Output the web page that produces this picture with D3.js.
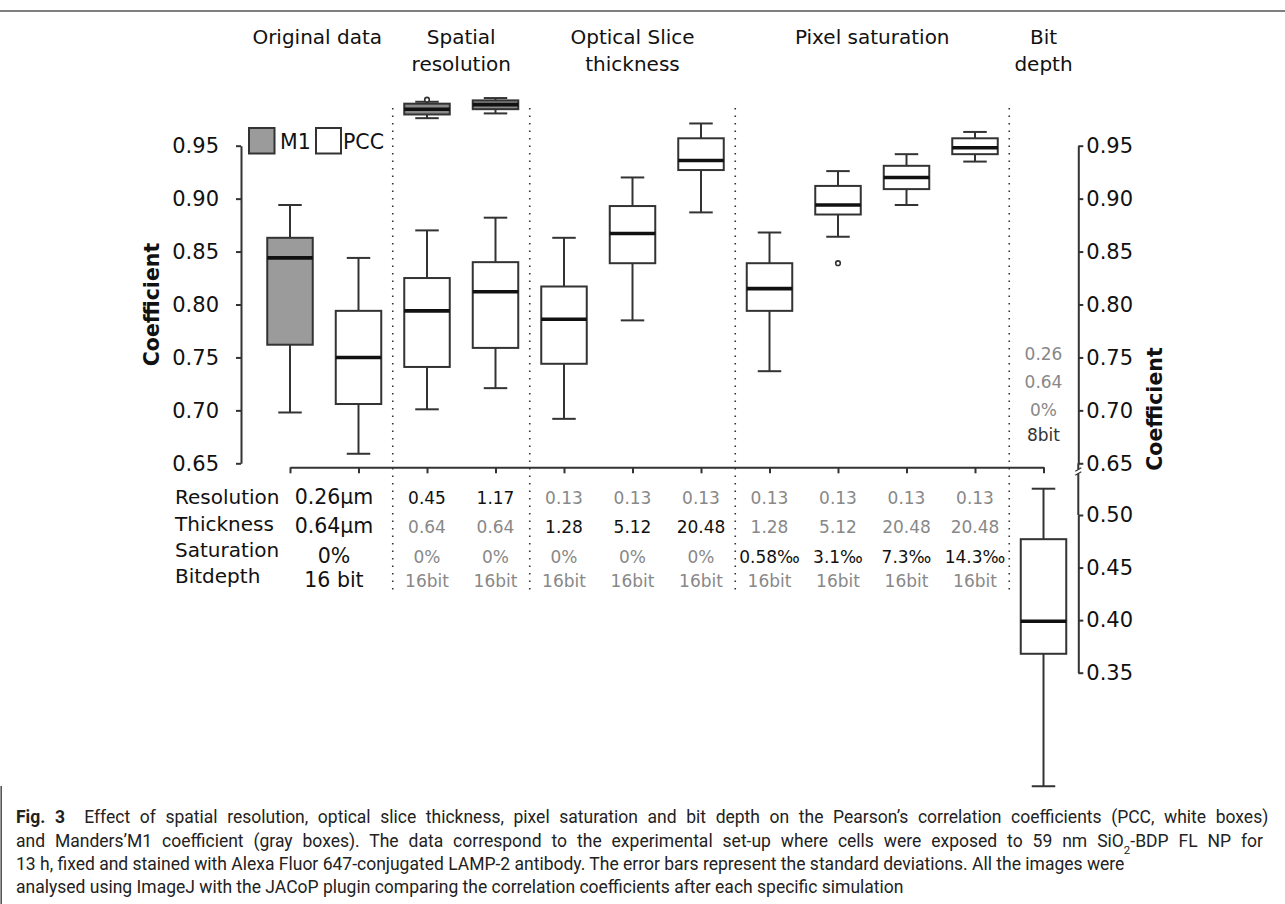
<!DOCTYPE html>
<html>
<head>
<meta charset="utf-8">
<script src="https://cdn.jsdelivr.net/npm/d3@7"></script>
<style>
  body { margin: 0; background: #fff; }
  svg { display: block; }
  .axis path, .axis line { stroke: #333; stroke-width: 2; }
  .axis text { font-family: "DejaVu Sans", Verdana, sans-serif; font-size: 21px; fill: #111; }
</style>
</head>
<body>
<svg id="chart" width="1285" height="904"></svg>
<script>
// ---- data ----
const categories = ["origM1", "origPCC", "res045", "res117", "thk128", "thk512", "thk2048",
                    "sat058", "sat31", "sat73", "sat143", "bit8"];
const boxKind   = ["M1", "PCC", "PCC", "PCC", "PCC", "PCC", "PCC", "PCC", "PCC", "PCC", "PCC", "PCC"];
const scalePart = ["upper", "upper", "upper", "upper", "upper", "upper", "upper", "upper", "upper", "upper", "upper", "lower"];
const whiskerHigh = [0.894, 0.844, 0.870, 0.882, 0.863, 0.920, 0.971, 0.868, 0.926, 0.942, 0.963, 0.525];
const q3          = [0.863, 0.794, 0.825, 0.840, 0.817, 0.893, 0.957, 0.839, 0.912, 0.931, 0.957, 0.477];
const median      = [0.844, 0.750, 0.794, 0.812, 0.786, 0.867, 0.936, 0.815, 0.894, 0.920, 0.948, 0.399];
const q1          = [0.762, 0.706, 0.741, 0.759, 0.744, 0.839, 0.927, 0.794, 0.885, 0.909, 0.942, 0.368];
const whiskerLow  = [0.698, 0.659, 0.701, 0.721, 0.692, 0.785, 0.887, 0.737, 0.864, 0.894, 0.935, 0.242];
const outliers    = [{cat: "sat31", v: 0.839}];

// M1 boxes of the spatial resolution group (drawn above the axis range)
const m1TopCats  = ["res045", "res117"];
const m1TopHigh  = [0.9915, 0.9950];
const m1TopQ3    = [0.9897, 0.9928];
const m1TopMed   = [0.9845, 0.9888];
const m1TopQ1    = [0.9795, 0.9845];
const m1TopLow   = [0.9760, 0.9805];
const m1TopOutliers = [{cat: "res045", v: 0.9935}];

const upperTicks = [0.65, 0.70, 0.75, 0.80, 0.85, 0.90, 0.95];
const lowerTicks = [0.35, 0.40, 0.45, 0.50];

const groupHeaders = [["Original data"], ["Spatial", "resolution"], ["Optical Slice", "thickness"],
                      ["Pixel saturation"], ["Bit", "depth"]];
const groupFirst = ["origM1", "res045", "thk128", "sat058", "bit8"];
const groupLast  = ["origPCC", "res117", "thk2048", "sat143", "bit8"];

const rowLabels = ["Resolution", "Thickness", "Saturation", "Bitdepth"];
const originalValues = ["0.26µm", "0.64µm", "0%", "16 bit"];
const tableCats = ["res045", "res117", "thk128", "thk512", "thk2048", "sat058", "sat31", "sat73", "sat143"];
const resolutionRow = ["0.45", "1.17", "0.13", "0.13", "0.13", "0.13", "0.13", "0.13", "0.13"];
const thicknessRow  = ["0.64", "0.64", "1.28", "5.12", "20.48", "1.28", "5.12", "20.48", "20.48"];
const saturationRow = ["0%", "0%", "0%", "0%", "0%", "0.58‰", "3.1‰", "7.3‰", "14.3‰"];
const bitdepthRow   = ["16bit", "16bit", "16bit", "16bit", "16bit", "16bit", "16bit", "16bit", "16bit"];
const variedRow     = [0, 0, 1, 1, 1, 2, 2, 2, 2];   // which parameter is changed in each column
const bitDepthValues = ["0.26", "0.64", "0%", "8bit"];

const captionLines = [
  [{t: "Fig. 3", b: true}, {t: "\u00a0 Effect of spatial resolution, optical slice thickness, pixel saturation and bit depth on the Pearson\u2019s correlation coefficients (PCC, white boxes)"}],
  [{t: "and Manders\u2019M1 coefficient (gray boxes). The data correspond to the experimental set-up where cells were exposed to 59 nm SiO"}, {t: "2", sub: true}, {t: "-BDP FL NP for"}],
  [{t: "13 h, fixed and stained with Alexa Fluor 647-conjugated LAMP-2 antibody. The error bars represent the standard deviations. All the images were"}],
  [{t: "analysed using ImageJ with the JACoP plugin comparing the correlation coefficients after each specific simulation"}]
];

// ---- layout ----
const W = 1285, H = 904;
const font = '"DejaVu Sans", Verdana, sans-serif';
const svg = d3.select("#chart");

const x = d3.scalePoint().domain(categories).range([290, 1043.5]);
const yUpper = d3.scaleLinear().domain([0.65, 0.95]).range([463.3, 145.7]);
const yLower = d3.scaleLinear().domain([0.35, 0.50]).range([672.7, 515]);
const boxW = 45.5, capW = 23.5;

// frame
svg.append("line").attr("x1", 0).attr("x2", W).attr("y1", 11).attr("y2", 11)
  .attr("stroke", "#555").attr("stroke-width", 1.3);
svg.append("line").attr("x1", 1.2).attr("x2", 1.2).attr("y1", 786).attr("y2", H)
  .attr("stroke", "#555").attr("stroke-width", 1.6);

// group separators
const sepX = groupFirst.slice(1).map((c, i) => (x(groupLast[i]) + x(c)) / 2);
svg.selectAll(".sep").data(sepX).enter().append("line")
  .attr("class", "sep")
  .attr("x1", d => d).attr("x2", d => d)
  .attr("y1", 108).attr("y2", 592)
  .attr("stroke", "#333").attr("stroke-width", 1.6)
  .attr("stroke-dasharray", "1.5,6");

// headers
groupHeaders.forEach((lines, i) => {
  const cx = (x(groupFirst[i]) + x(groupLast[i])) / 2 - (i === 0 ? 7 : 0);
  lines.forEach((t, j) => {
    svg.append("text").attr("x", cx).attr("y", 44 + j * 27)
      .attr("text-anchor", "middle").attr("font-family", font).attr("font-size", 20)
      .attr("fill", "#111").text(t);
  });
});

// axes
svg.append("g").attr("class", "axis").attr("transform", "translate(241,0)")
  .call(d3.axisLeft(yUpper).tickValues(upperTicks).tickFormat(d3.format(".2f"))
    .tickSize(5).tickSizeOuter(0).tickPadding(17));

svg.append("g").attr("class", "axis").attr("transform", "translate(1078.3,0)")
  .call(d3.axisRight(yUpper).tickValues(upperTicks).tickFormat(d3.format(".2f"))
    .tickSize(5).tickSizeOuter(0).tickPadding(3));
svg.append("g").attr("class", "axis").attr("transform", "translate(1078.3,0)")
  .call(d3.axisRight(yLower).tickValues(lowerTicks).tickFormat(d3.format(".2f"))
    .tickSize(5).tickSizeOuter(0).tickPadding(3));
// axis break
svg.append("line").attr("x1", 1078.3).attr("x2", 1078.3).attr("y1", yUpper(0.65)).attr("y2", 469.5)
  .attr("stroke", "#333").attr("stroke-width", 2);
svg.append("line").attr("x1", 1078.3).attr("x2", 1078.3).attr("y1", 473.5).attr("y2", yLower(0.50))
  .attr("stroke", "#333").attr("stroke-width", 2);
svg.append("path").attr("d", "M1075.3,471.2L1081.3,467.8M1075.3,475.2L1081.3,471.8")
  .attr("stroke", "#333").attr("stroke-width", 1.2).attr("fill", "none");

const bottomAxis = svg.append("g").attr("class", "axis").attr("transform", "translate(0,467.3)")
  .call(d3.axisBottom(x).tickSize(6).tickSizeOuter(0).tickFormat(""));
bottomAxis.selectAll("path, line").attr("stroke-width", 1.8);

// axis titles
svg.append("text").attr("transform", "translate(151.5,304.5) rotate(-90)").attr("dy", "0.35em")
  .attr("text-anchor", "middle").attr("font-family", font).attr("font-weight", "bold")
  .attr("font-size", 20.5).attr("fill", "#111").text("Coefficient");
svg.append("text").attr("transform", "translate(1155,409) rotate(-90)").attr("dy", "0.35em")
  .attr("text-anchor", "middle").attr("font-family", font).attr("font-weight", "bold")
  .attr("font-size", 20.5).attr("fill", "#111").text("Coefficient");

// boxes
function drawBox(g, cx, y, lo, b1, med, b3, hi, fill, w) {
  g.append("line").attr("x1", cx).attr("x2", cx).attr("y1", y(b3)).attr("y2", y(hi));
  g.append("line").attr("x1", cx).attr("x2", cx).attr("y1", y(b1)).attr("y2", y(lo));
  g.append("line").attr("x1", cx - capW / 2).attr("x2", cx + capW / 2).attr("y1", y(hi)).attr("y2", y(hi));
  g.append("line").attr("x1", cx - capW / 2).attr("x2", cx + capW / 2).attr("y1", y(lo)).attr("y2", y(lo));
  g.append("rect").attr("x", cx - w / 2).attr("y", y(b3)).attr("width", w).attr("height", y(b1) - y(b3))
    .attr("fill", fill);
  g.append("line").attr("x1", cx - w / 2).attr("x2", cx + w / 2).attr("y1", y(med)).attr("y2", y(med))
    .attr("stroke", "#111").attr("stroke-width", 3.6);
}

const boxes = svg.append("g").attr("stroke", "#333").attr("stroke-width", 2);
categories.forEach((c, i) => {
  const y = scalePart[i] === "upper" ? yUpper : yLower;
  drawBox(boxes, x(c), y, whiskerLow[i], q1[i], median[i], q3[i], whiskerHigh[i],
    boxKind[i] === "M1" ? "#9b9b9b" : "#fff", boxW);
});
m1TopCats.forEach((c, i) => {
  drawBox(boxes, x(c), yUpper, m1TopLow[i], m1TopQ1[i], m1TopMed[i], m1TopQ3[i], m1TopHigh[i], "#8a8a8a", boxW);
});
boxes.selectAll(".outlier").data(outliers.concat(m1TopOutliers)).enter().append("circle")
  .attr("class", "outlier")
  .attr("cx", d => x(d.cat)).attr("cy", d => yUpper(d.v)).attr("r", 2.3)
  .attr("fill", "#fff").attr("stroke-width", 1.6);

// legend
const legend = svg.append("g").attr("font-family", font).attr("font-size", 20.5).attr("fill", "#111");
legend.append("rect").attr("x", 249).attr("y", 128).attr("width", 25.5).attr("height", 25.5)
  .attr("fill", "#9b9b9b").attr("stroke", "#333").attr("stroke-width", 2);
legend.append("text").attr("x", 280).attr("y", 149).text("M1");
legend.append("rect").attr("x", 316).attr("y", 128).attr("width", 25).attr("height", 25.5)
  .attr("fill", "#fff").attr("stroke", "#333").attr("stroke-width", 2);
legend.append("text").attr("x", 343).attr("y", 149).text("PCC");

// parameter table
const labelBase = [504.3, 530.7, 557.3, 582.7];
const valueBase = [504.3, 533.3, 562.7, 587];
const table = svg.append("g").attr("font-family", font);
rowLabels.forEach((t, r) => {
  table.append("text").attr("x", 175).attr("y", labelBase[r]).attr("font-size", 20)
    .attr("fill", "#111").text(t);
  table.append("text").attr("x", 334).attr("y", valueBase[r]).attr("font-size", 20.5)
    .attr("text-anchor", "middle").attr("fill", "#111").text(originalValues[r]);
});
const rows = [resolutionRow, thicknessRow, saturationRow, bitdepthRow];
tableCats.forEach((c, j) => {
  rows.forEach((row, r) => {
    table.append("text").attr("x", x(c)).attr("y", valueBase[r]).attr("font-size", 17)
      .attr("text-anchor", "middle")
      .attr("fill", variedRow[j] === r ? "#111" : "#888")
      .text(row[j]);
  });
});
bitDepthValues.forEach((t, r) => {
  table.append("text").attr("x", x("bit8")).attr("y", 360 + r * 28.2 - (r === 3 ? 3.5 : 0))
    .attr("font-size", 17).attr("text-anchor", "middle")
    .attr("fill", r === 3 ? "#333" : "#888").text(t);
});

// caption: first two lines justified to the right margin
const capBase = [823, 846.5, 870, 893];
const capLeft = 16, capRight = 1263;
const caption = svg.append("g")
  .attr("font-family", "Roboto, 'Open Sans', sans-serif")
  .attr("font-size", 17.5).attr("fill", "#222");
captionLines.forEach((parts, i) => {
  const t = caption.append("text").attr("x", capLeft).attr("y", capBase[i]);
  parts.forEach(p => {
    const s = t.append("tspan").text(p.t);
    if (p.b) s.attr("font-weight", "bold");
    if (p.sub) s.attr("baseline-shift", "sub").attr("font-size", 11.5);
  });
  if (i < 2) {
    const natural = t.node().getComputedTextLength();
    const spaces = parts.map(p => p.t).join("").split(" ").length - 1;
    const extra = (capRight - capLeft) - natural;
    if (extra > 0) t.attr("word-spacing", extra / spaces);
    else t.attr("textLength", capRight - capLeft).attr("lengthAdjust", "spacingAndGlyphs");
  }
});
</script>
</body>
</html>
